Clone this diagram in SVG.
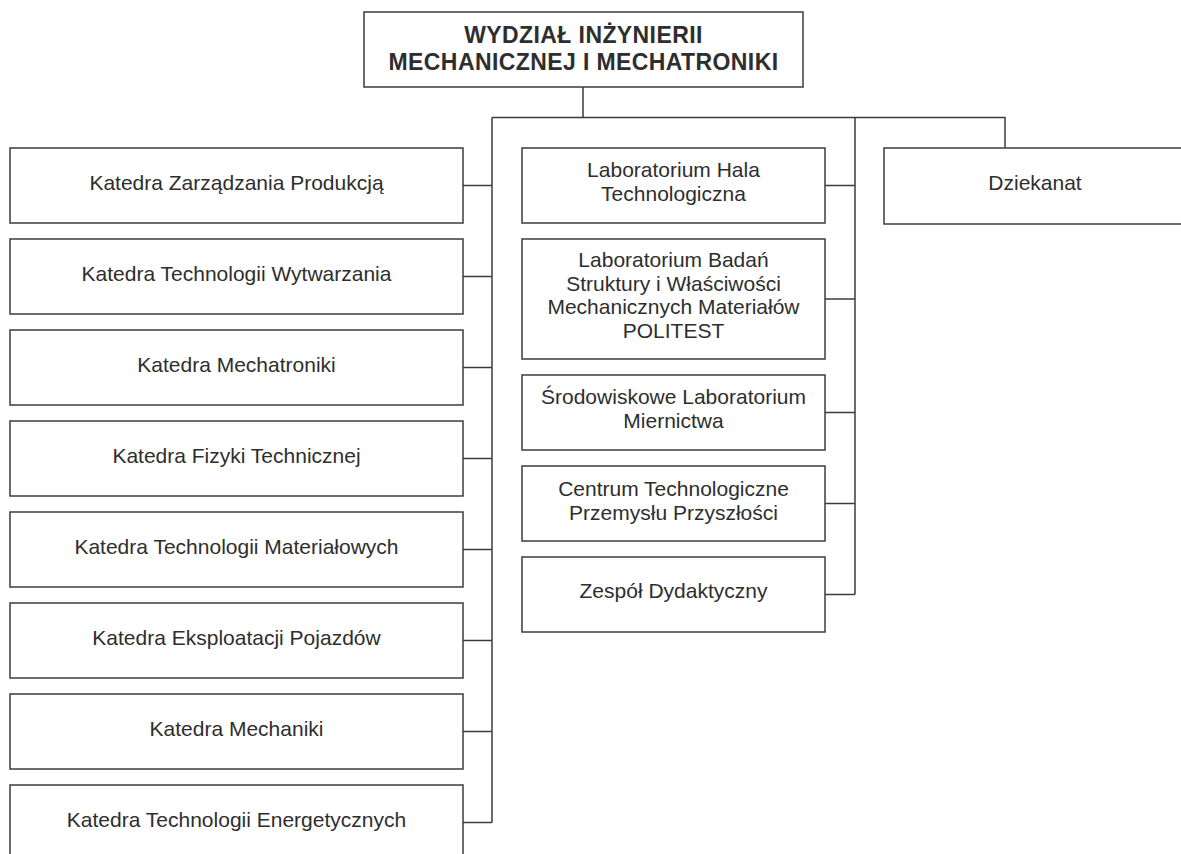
<svg xmlns="http://www.w3.org/2000/svg" width="1181" height="854" viewBox="0 0 1181 854">
<style>
.box{fill:#fff;stroke:#3c3c3c;stroke-width:1.5}
.t{font-family:"Liberation Sans",Arial,sans-serif;font-size:21px;fill:#2e2e2e;text-anchor:middle}
.title{font-family:"Liberation Sans",Arial,sans-serif;font-size:23px;font-weight:bold;fill:#2e2e2e;text-anchor:middle;letter-spacing:0.4px}
.conn{fill:none;stroke:#3c3c3c;stroke-width:1.5}
</style>
<rect width="1181" height="854" fill="#fff"/>
<g id="connectors" class="conn">
<path d="M583 87V117.5M492 117.5H1005V148"/>
<path d="M492 117.5V822.5M463 185.5H492M463 276.5H492M463 367.5H492M463 458.5H492M463 549.5H492M463 640.5H492M463 731.5H492M463 822.5H492"/>
<path d="M855 117.5V594.5M825 185.5H855M825 299H855M825 412.5H855M825 503.5H855M825 594.5H855"/>
</g>
<g id="wydzial"><rect class="box" x="364" y="12" width="439" height="75"/>
<text class="title" x="583.5" y="43">WYDZIAŁ INŻYNIERII</text>
<text class="title" x="583.5" y="70">MECHANICZNEJ I MECHATRONIKI</text></g>
<g id="k1"><rect class="box" x="10" y="148" width="453" height="75"/><text class="t" x="236.5" y="190">Katedra Zarządzania Produkcją</text></g>
<g id="k2"><rect class="box" x="10" y="239" width="453" height="75"/><text class="t" x="236.5" y="281">Katedra Technologii Wytwarzania</text></g>
<g id="k3"><rect class="box" x="10" y="330" width="453" height="75"/><text class="t" x="236.5" y="372">Katedra Mechatroniki</text></g>
<g id="k4"><rect class="box" x="10" y="421" width="453" height="75"/><text class="t" x="236.5" y="463">Katedra Fizyki Technicznej</text></g>
<g id="k5"><rect class="box" x="10" y="512" width="453" height="75"/><text class="t" x="236.5" y="554">Katedra Technologii Materiałowych</text></g>
<g id="k6"><rect class="box" x="10" y="603" width="453" height="75"/><text class="t" x="236.5" y="645">Katedra Eksploatacji Pojazdów</text></g>
<g id="k7"><rect class="box" x="10" y="694" width="453" height="75"/><text class="t" x="236.5" y="736">Katedra Mechaniki</text></g>
<g id="k8"><rect class="box" x="10" y="785" width="453" height="75"/><text class="t" x="236.5" y="827">Katedra Technologii Energetycznych</text></g>
<g id="l1"><rect class="box" x="522" y="148" width="303" height="75"/><text class="t" x="673.5" y="177">Laboratorium Hala</text><text class="t" x="673.5" y="201">Technologiczna</text></g>
<g id="l2"><rect class="box" x="522" y="239" width="303" height="120"/><text class="t" x="673.5" y="267">Laboratorium Badań</text><text class="t" x="673.5" y="291">Struktury i Właściwości</text><text class="t" x="673.5" y="314">Mechanicznych Materiałów</text><text class="t" x="673.5" y="338">POLITEST</text></g>
<g id="l3"><rect class="box" x="522" y="375" width="303" height="75"/><text class="t" x="673.5" y="404">Środowiskowe Laboratorium</text><text class="t" x="673.5" y="428">Miernictwa</text></g>
<g id="l4"><rect class="box" x="522" y="466" width="303" height="75"/><text class="t" x="673.5" y="496">Centrum Technologiczne</text><text class="t" x="673.5" y="520">Przemysłu Przyszłości</text></g>
<g id="l5"><rect class="box" x="522" y="557" width="303" height="75"/><text class="t" x="673.5" y="598">Zespół Dydaktyczny</text></g>
<g id="dziekanat"><rect class="box" x="884" y="148" width="302" height="76"/><text class="t" x="1035" y="190">Dziekanat</text></g>
</svg>
